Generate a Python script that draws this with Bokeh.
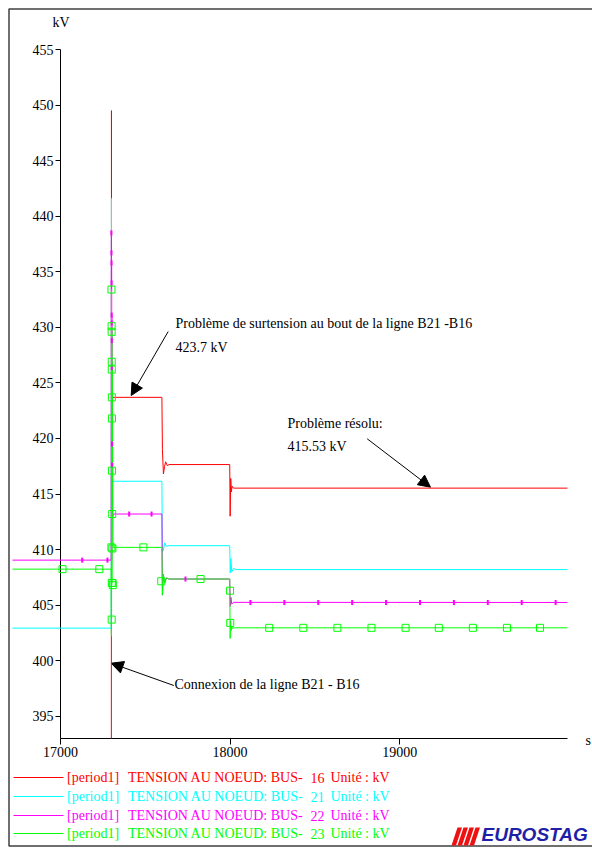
from bokeh.plotting import figure
from bokeh.models import Range1d, FixedTicker, Arrow, NormalHead
from bokeh.core.properties import value
from bokeh.embed import file_html
from bokeh.resources import INLINE
import math

# ---------------- data ----------------
x_ticks = [17000, 18000, 19000]
y_ticks = [395, 400, 405, 410, 415, 420, 425, 430, 435, 440, 445, 450, 455]

red_t = [17300, 17300.5, 17301.5, 17302.5, 17304, 17310, 17598, 17601, 17607, 17614, 17620, 17630, 17640,
         17998, 18000.5, 18004, 18008, 18012, 18020, 19990]
red_v = [393.0, 449.5, 421.0, 424.6, 423.5, 423.7, 423.7, 419.0, 416.8, 417.5, 417.9, 417.55, 417.65,
         417.65, 413.0, 416.4, 415.2, 415.7, 415.53, 415.53]

cyan_t = [16717, 17299, 17300.5, 17301.5, 17302.5, 17304, 17310, 17598, 17601, 17606, 17614, 17625, 17640,
          17998, 18001, 18005, 18010, 18020, 18035, 19990]
cyan_v = [402.93, 402.93, 441.6, 412.0, 417.0, 416.0, 416.15, 416.15, 409.8, 409.9, 410.6, 410.3, 410.35,
          410.35, 407.9, 409.2, 408.0, 408.3, 408.2, 408.2]

mag_t = [16717, 17299, 17300.3, 17300.8, 17301.3, 17301.8, 17302.4, 17303, 17304, 17306, 17310,
         17598, 17601, 17606, 17614, 17625, 17640, 17998, 18001, 18005, 18010, 18020, 19990]
mag_v = [409.05, 409.05, 438.6, 405.5, 435.8, 409.0, 431.0, 417.6, 419.5, 412.8, 413.2,
         413.2, 405.9, 407.8, 407.0, 407.45, 407.35, 407.35, 404.9, 405.7, 405.1, 405.25, 405.24]

green_t = [16717, 17299, 17300.2, 17300.6, 17301.0, 17301.4, 17301.8, 17302.2, 17302.6, 17303.0, 17303.5,
           17304.0, 17305, 17307, 17310, 17598, 17601, 17606, 17614, 17625, 17640,
           17998, 18000.5, 18003, 18006, 18010, 18015, 18025, 19990]
green_v = [408.24, 408.24, 402.2, 433.4, 403.7, 430.1, 406.8, 429.6, 407.0, 426.9, 413.2,
           426.2, 417.1, 421.8, 410.2, 410.2, 405.9, 407.8, 407.0, 407.45, 407.35,
           407.35, 402.0, 403.6, 402.7, 403.1, 402.9, 402.96, 402.96]

green_mark_t = [17012, 17229, 17300.6, 17301.4, 17301.5, 17302.2, 17302.3, 17303.0, 17303.5, 17304.0,
                17305, 17306, 17307, 17308, 17301.8, 17302.6, 17300.4, 17489, 17594, 17826, 18000, 18001,
                18231, 18432, 18633, 18834, 19035, 19231, 19432, 19633, 19828]
green_mark_v = [408.24, 408.24, 433.4, 430.1, 429.6, 426.9, 426.2, 423.7, 421.8, 417.1,
                413.2, 410.1, 407.0, 406.8, 403.7, 407.0, 410.2, 410.2, 407.15, 407.35, 406.3, 403.4,
                402.96, 402.96, 402.96, 402.96, 402.96, 402.96, 402.96, 402.96, 402.96]

mag_mark_t = [16735, 17128, 17277, 17300.3, 17300.6, 17301.0, 17301.3, 17302.0, 17302.4, 17302.8, 17303.2,
              17303.8, 17304.2, 17405, 17537, 17737, 18120, 18320, 18520, 18720, 18920, 19120, 19320,
              19520, 19720, 19920]
mag_mark_v = [409.05, 409.05, 409.05, 438.5, 436.7, 435.8, 434.0, 431.1, 430.4, 428.8, 426.4,
              419.5, 417.6, 413.2, 413.2, 407.35, 405.24, 405.24, 405.24, 405.24, 405.24, 405.24, 405.24,
              405.24, 405.24, 405.24]

series_names = ["16", "21", "22", "23"]
series_colors = ["#FF0000", "#00FFFF", "#FF00FF", "#00FF00"]

# ---------------- layout helpers (page px -> data units) ----------------
X0, X1 = 17000, 19990
Y0, Y1 = 393, 455
FW, FH = 507, 689
SX = (X1 - X0) / FW
SY = (Y1 - Y0) / FH


def X(px):
    return X0 + (px - 60) * SX


def Y(py):
    return Y1 - (py - 49) * SY


p = figure(width=592, height=848, frame_width=FW, frame_height=FH,
           x_range=Range1d(X0, X1), y_range=Range1d(Y0, Y1),
           min_border_left=60, min_border_right=25, min_border_top=49, min_border_bottom=110,
           output_backend="svg", toolbar_location=None)
p.grid.visible = False
p.outline_line_color = None
p.background_fill_color = "white"
p.border_fill_color = "white"

for ax in (p.xaxis[0], p.yaxis[0]):
    ax.axis_line_color = "black"
    ax.major_tick_line_color = "black"
    ax.major_tick_in = 0
    ax.major_tick_out = 5
    ax.minor_tick_line_color = None
    ax.major_label_text_font = "Liberation Serif"
    ax.major_label_text_font_size = "14px"
    ax.major_label_text_color = "black"
    ax.major_label_standoff = 2
p.xaxis.ticker = FixedTicker(ticks=x_ticks)
p.yaxis.ticker = FixedTicker(ticks=y_ticks)
p.xaxis.major_tick_out = 6

# ---------------- series ----------------
lines = [(red_t, red_v), (cyan_t, cyan_v), (mag_t, mag_v), (green_t, green_v)]
for (t, v), c in zip(lines, series_colors):
    r = p.line(t, v, line_color=c, line_width=1)
    r.level = "overlay"

rm = p.scatter(mag_mark_t, mag_mark_v, marker="dash", angle=math.pi / 2, size=5,
               line_color="#FF00FF", line_width=2)
rm.level = "overlay"
rg = p.scatter(green_mark_t, green_mark_v, marker="square", size=7, fill_color=None,
               line_color="#00FF00", line_width=1)
rg.level = "overlay"

# ---------------- texts (overlay glyphs so they are not clipped) ----------------
serif = "Liberation Serif"


def lab(px, py, text, size="14px", color="black", align="left", baseline="middle", font=serif, style="normal"):
    r = p.text(x=[X(px)], y=[Y(py)], text=[text], text_font=value(font), text_font_size=value(size),
               text_color=color, text_align=align, text_baseline=baseline, text_font_style=style)
    r.level = "overlay"


lab(52, 22, "kV")
lab(585, 740, "s")

lab(175, 323, "Problème de surtension au bout de la ligne B21 -B16")
lab(175, 347, "423.7 kV")
lab(287, 423, "Problème résolu:")
lab(287, 446, "415.53 kV")
lab(174, 684, "Connexion de la ligne B21 - B16")

for (xs, ys, xe, ye) in [(167.7, 331, 130.7, 395), (366.7, 438.3, 430, 486.7), (173.3, 685, 110.7, 662.7)]:
    p.add_layout(Arrow(x_start=X(xs), y_start=Y(ys), x_end=X(xe), y_end=Y(ye),
                       line_color="black", line_width=1,
                       end=NormalHead(size=12, fill_color="black", line_color="black", line_width=1)))

# ---------------- legend ----------------
row_y = [777, 796, 815, 833]
for yy, c in zip(row_y, series_colors):
    lr = p.line([X(13), X(63)], [Y(yy), Y(yy)], line_color=c, line_width=1)
    lr.level = "overlay"
for i, (nm, c) in enumerate(zip(series_names, series_colors)):
    yy = row_y[i]
    lab(66.5, yy, "[period1]", color=c)
    lab(127.5, yy, "TENSION AU NOEUD: BUS-", color=c)
    lab(310, yy, nm, color=c)
    lab(330, yy, "Unité : kV", color=c)
lm = p.scatter([X(38)], [Y(row_y[2])], marker="dash", angle=math.pi / 2, size=5,
               line_color="#FF00FF", line_width=2)
lm.level = "overlay"
lg = p.scatter([X(38)], [Y(row_y[3])], marker="square", size=4, fill_color="#00FF00",
               line_color="#00FF00")
lg.level = "overlay"

# ---------------- outer frame ----------------
fr = p.line([X(600), X(8.5), X(8.5), X(600)], [Y(8.5), Y(8.5), Y(845.5), Y(845.5)],
            line_color="#404040", line_width=1.5)
fr.level = "overlay"

# ---------------- logo ----------------
for bx in [451, 457, 463, 469]:
    st = p.patch([X(bx), X(bx + 4.5), X(bx + 10.5), X(bx + 6)], [Y(845), Y(845), Y(827), Y(827)],
                 fill_color="#EE1111", line_color=None)
    st.level = "overlay"
lab(481, 844, "EUROSTAG", size="19px", color="#1F1FA8", baseline="bottom",
    font="Liberation Sans", style="bold italic")

open("out.html", "w").write(file_html(p, INLINE))
